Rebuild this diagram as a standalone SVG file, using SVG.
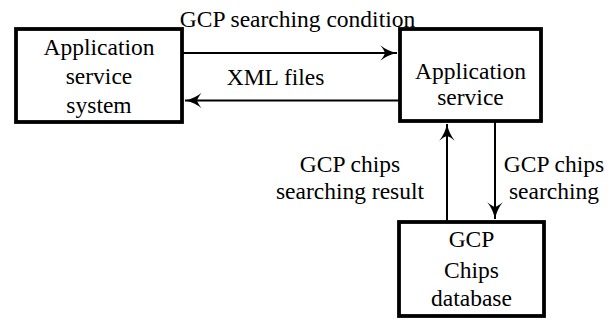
<svg xmlns="http://www.w3.org/2000/svg" width="614" height="321" viewBox="0 0 614 321">
<style>
.box{fill:#fff;stroke:#000;stroke-width:3.8}
.t{font-family:"Liberation Serif","Times New Roman",serif;font-size:23.5px;fill:#000;text-anchor:middle}
.c{fill:none;stroke:#000;stroke-width:2}
</style>
<defs>
<marker id="ah" markerUnits="userSpaceOnUse" markerWidth="20" markerHeight="20" viewBox="-16 -8 18 16" refX="0" refY="0" orient="auto">
<path d="M0,0 Q-9,-2 -15,-7 Q-11,-2 -11,0 Q-11,2 -15,7 Q-9,2 0,0 Z" fill="#000"/>
</marker>
</defs>
<rect width="614" height="321" fill="#fff"/>
<g id="connectors">
<line class="c" x1="183" y1="53" x2="397" y2="53" marker-end="url(#ah)"/>
<line class="c" x1="399" y1="100.5" x2="185" y2="100.5" marker-end="url(#ah)"/>
<line class="c" x1="447" y1="221" x2="447" y2="124" marker-end="url(#ah)"/>
<line class="c" x1="495" y1="122" x2="495" y2="219" marker-end="url(#ah)"/>
<text class="t" x="297.5" y="26.5">GCP searching condition</text>
<text class="t" x="275.5" y="85">XML files</text>
<text class="t" x="350" y="171.5">GCP chips</text>
<text class="t" x="350" y="199">searching result</text>
<text class="t" x="554" y="171.5">GCP chips</text>
<text class="t" x="554" y="199">searching</text>
</g>
<g id="app-service-system">
<rect class="box" x="16" y="29" width="166" height="93"/>
<text class="t" x="99" y="54.5">Application</text>
<text class="t" x="99" y="83.5">service</text>
<text class="t" x="99" y="112.5">system</text>
</g>
<g id="app-service">
<rect class="box" x="400" y="29" width="141" height="92"/>
<text class="t" x="470.5" y="79">Application</text>
<text class="t" x="470.5" y="105">service</text>
</g>
<g id="gcp-db">
<rect class="box" x="399" y="222" width="145" height="94"/>
<text class="t" x="471.5" y="247">GCP</text>
<text class="t" x="471.5" y="277.5">Chips</text>
<text class="t" x="471.5" y="306">database</text>
</g>
</svg>
